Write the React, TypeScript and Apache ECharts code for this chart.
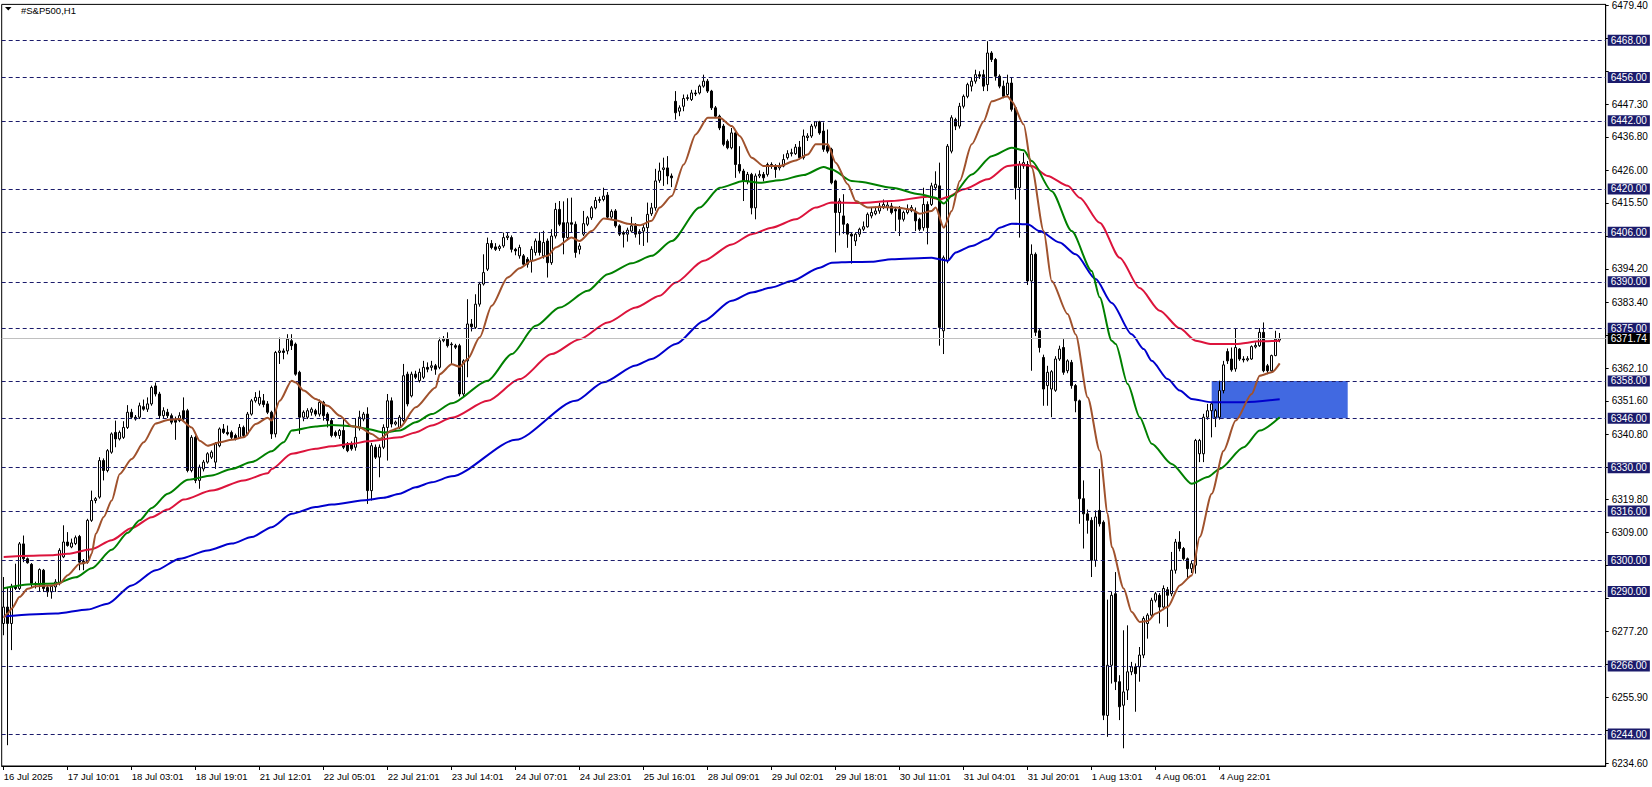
import React, { useEffect, useRef } from "react";
import * as echarts from "echarts";

// ---------- data ----------
const SLOT_COUNT = 401;
const symbolTitle = "#S&P500,H1";

// [open, close, low, high] per H1 bar
const bars: number[][] = [
  [6279.7, 6285.0, 6275.9, 6294.7], [6285.0, 6279.7, 6240.4, 6291.5], [6279.7, 6291.7, 6271.1, 6292.5], [6291.7, 6291.0, 6290.5, 6299.0],
  [6291.0, 6305.4, 6290.5, 6306.0], [6305.4, 6300.6, 6299.5, 6308.1], [6300.6, 6299.3, 6299.0, 6301.0], [6298.8, 6292.6, 6291.5, 6299.2],
  [6292.6, 6292.4, 6291.0, 6293.2], [6292.6, 6297.1, 6289.9, 6297.5], [6296.9, 6291.0, 6289.9, 6297.3], [6291.3, 6289.9, 6288.3, 6291.8],
  [6289.9, 6291.7, 6287.7, 6292.0], [6291.5, 6293.1, 6289.9, 6294.0], [6292.6, 6303.3, 6292.0, 6304.0], [6301.2, 6306.0, 6300.8, 6311.4],
  [6306.0, 6304.9, 6304.5, 6309.2], [6304.4, 6305.7, 6304.0, 6307.1], [6305.5, 6307.4, 6305.0, 6308.1], [6307.8, 6299.5, 6296.9, 6308.3],
  [6299.8, 6299.0, 6296.9, 6300.5], [6299.5, 6313.0, 6299.0, 6313.5], [6313.0, 6319.4, 6312.5, 6322.6], [6319.4, 6320.0, 6318.5, 6320.5],
  [6320.5, 6332.3, 6320.0, 6333.4], [6332.3, 6329.1, 6325.9, 6333.0], [6329.1, 6335.5, 6328.5, 6336.0], [6335.0, 6340.9, 6334.5, 6341.4],
  [6341.4, 6339.3, 6336.6, 6345.2], [6339.3, 6341.4, 6338.8, 6342.0], [6339.8, 6343.0, 6339.3, 6345.0], [6343.0, 6347.9, 6342.5, 6350.2],
  [6347.9, 6346.3, 6345.7, 6349.0], [6346.3, 6345.7, 6345.2, 6347.0], [6346.3, 6350.0, 6345.7, 6351.0], [6349.7, 6348.9, 6348.4, 6352.0],
  [6348.9, 6350.6, 6348.0, 6352.7], [6350.6, 6355.9, 6350.0, 6356.5], [6356.4, 6353.8, 6353.0, 6357.5], [6353.8, 6346.8, 6345.7, 6354.5],
  [6346.8, 6348.4, 6346.0, 6349.5], [6347.9, 6346.8, 6346.0, 6349.0], [6346.8, 6344.7, 6344.0, 6347.5], [6345.7, 6344.7, 6339.0, 6346.5],
  [6345.2, 6346.8, 6344.7, 6347.9], [6348.4, 6345.7, 6345.0, 6352.7], [6348.4, 6329.1, 6328.5, 6349.0], [6329.1, 6339.8, 6328.5, 6340.5],
  [6339.8, 6325.9, 6325.0, 6340.4], [6325.9, 6330.2, 6323.2, 6331.0], [6329.6, 6331.8, 6328.8, 6332.5], [6331.8, 6334.5, 6331.3, 6335.0],
  [6333.4, 6335.0, 6332.8, 6335.6], [6331.8, 6337.7, 6329.6, 6338.3], [6337.1, 6342.5, 6336.6, 6343.0], [6342.5, 6341.4, 6340.9, 6344.1],
  [6341.4, 6340.9, 6340.4, 6343.6], [6341.4, 6339.8, 6339.0, 6342.0], [6340.4, 6339.3, 6338.8, 6341.0], [6339.8, 6343.0, 6339.3, 6344.1],
  [6343.0, 6340.4, 6339.8, 6343.6], [6340.9, 6347.3, 6340.4, 6348.0], [6347.3, 6351.6, 6346.8, 6352.2], [6351.6, 6352.7, 6351.0, 6354.4],
  [6350.6, 6352.7, 6350.0, 6354.9], [6351.6, 6350.4, 6349.5, 6353.8], [6350.6, 6347.9, 6347.3, 6351.5], [6347.9, 6340.9, 6339.3, 6348.4],
  [6340.9, 6367.2, 6339.8, 6367.7], [6367.2, 6367.7, 6363.5, 6372.0], [6367.7, 6367.2, 6365.0, 6368.5], [6367.7, 6371.5, 6366.6, 6373.1],
  [6371.0, 6369.4, 6368.0, 6373.1], [6369.9, 6360.2, 6359.7, 6370.4], [6360.8, 6346.3, 6340.9, 6361.3], [6346.3, 6347.9, 6345.0, 6348.5],
  [6346.3, 6348.4, 6345.7, 6349.2], [6347.9, 6348.9, 6346.8, 6349.5], [6348.4, 6347.3, 6346.6, 6349.0], [6347.3, 6351.1, 6346.5, 6352.0],
  [6351.1, 6346.8, 6345.2, 6351.6], [6347.3, 6345.2, 6343.0, 6347.9], [6345.2, 6340.4, 6339.8, 6345.7], [6341.4, 6340.4, 6339.8, 6342.0],
  [6340.4, 6342.0, 6339.3, 6342.5], [6342.0, 6336.6, 6336.0, 6346.0], [6337.7, 6335.5, 6335.0, 6338.3], [6337.7, 6336.1, 6335.5, 6338.5],
  [6336.6, 6339.8, 6335.5, 6346.0], [6343.0, 6346.3, 6342.0, 6348.4], [6345.7, 6347.3, 6345.0, 6348.0], [6347.3, 6322.6, 6318.3, 6349.5],
  [6322.6, 6337.1, 6319.4, 6338.0], [6336.6, 6333.4, 6332.8, 6337.5], [6333.4, 6336.6, 6326.9, 6337.5], [6336.6, 6343.0, 6336.0, 6344.0],
  [6343.0, 6351.6, 6332.3, 6353.8], [6351.6, 6344.1, 6343.0, 6352.7], [6344.1, 6344.7, 6343.6, 6345.2], [6343.0, 6346.3, 6342.5, 6347.0],
  [6345.2, 6359.7, 6344.7, 6363.5], [6360.2, 6350.6, 6349.8, 6361.0], [6353.2, 6360.2, 6352.7, 6361.0], [6360.2, 6359.2, 6358.6, 6361.3],
  [6358.1, 6360.8, 6357.5, 6362.0], [6359.2, 6362.4, 6358.6, 6364.5], [6362.4, 6361.8, 6360.8, 6364.0], [6362.4, 6362.9, 6361.3, 6364.5],
  [6362.9, 6361.8, 6360.0, 6363.5], [6362.4, 6371.0, 6361.8, 6372.0], [6371.0, 6371.5, 6370.5, 6372.5], [6371.5, 6369.4, 6368.8, 6373.7],
  [6369.9, 6369.7, 6363.5, 6370.5], [6369.4, 6368.9, 6368.3, 6370.0], [6369.4, 6353.8, 6353.0, 6370.0], [6353.8, 6364.5, 6353.0, 6365.0],
  [6364.5, 6376.4, 6359.2, 6384.4], [6376.4, 6375.5, 6374.0, 6378.0], [6375.3, 6382.8, 6374.8, 6386.0], [6382.8, 6389.3, 6382.0, 6390.0],
  [6389.3, 6393.0, 6388.8, 6398.9], [6394.1, 6402.4, 6393.5, 6404.3], [6402.4, 6401.1, 6400.5, 6403.5], [6401.3, 6400.5, 6400.0, 6402.5],
  [6400.8, 6401.4, 6400.0, 6402.0], [6401.6, 6404.3, 6401.0, 6405.9], [6404.3, 6404.8, 6403.5, 6405.9], [6404.3, 6400.5, 6399.5, 6405.0],
  [6400.5, 6400.0, 6398.6, 6401.0], [6398.4, 6401.1, 6397.5, 6402.0], [6398.4, 6395.7, 6395.0, 6399.0], [6397.3, 6395.7, 6394.6, 6398.0],
  [6396.8, 6400.5, 6393.0, 6401.5], [6399.5, 6403.2, 6398.5, 6404.0], [6403.2, 6399.5, 6398.5, 6406.0], [6398.4, 6402.7, 6397.5, 6406.5],
  [6403.2, 6396.2, 6391.4, 6404.0], [6396.2, 6404.8, 6395.5, 6407.0], [6404.8, 6413.4, 6404.0, 6415.5], [6413.4, 6408.6, 6408.0, 6416.1],
  [6409.1, 6404.3, 6398.9, 6416.0], [6404.3, 6409.1, 6403.5, 6417.0], [6409.1, 6408.6, 6406.0, 6417.2], [6408.6, 6399.5, 6397.8, 6409.5],
  [6400.5, 6401.6, 6398.9, 6402.5], [6405.4, 6408.8, 6404.8, 6412.9], [6408.6, 6410.7, 6408.0, 6411.3], [6410.7, 6413.9, 6410.0, 6414.5],
  [6413.9, 6416.3, 6413.4, 6417.4], [6416.3, 6416.6, 6415.5, 6417.5], [6416.6, 6417.7, 6416.0, 6420.4], [6418.0, 6410.9, 6410.2, 6419.0],
  [6410.9, 6412.7, 6410.0, 6413.4], [6412.9, 6408.1, 6407.5, 6413.5], [6408.1, 6405.4, 6404.8, 6408.6], [6405.9, 6405.4, 6401.1, 6406.5],
  [6405.4, 6406.7, 6403.0, 6407.5], [6406.4, 6408.1, 6405.9, 6411.0], [6408.1, 6405.4, 6404.3, 6409.0], [6406.2, 6405.6, 6402.0, 6407.0],
  [6406.4, 6407.5, 6401.6, 6408.5], [6407.5, 6411.8, 6402.7, 6415.6], [6412.0, 6413.9, 6411.3, 6415.5], [6413.9, 6422.6, 6413.0, 6426.5],
  [6422.8, 6425.8, 6422.0, 6428.5], [6426.3, 6426.8, 6421.0, 6430.1], [6426.8, 6424.2, 6421.5, 6430.6], [6424.2, 6423.6, 6420.6, 6425.0],
  [6448.3, 6444.6, 6442.4, 6451.6], [6445.1, 6446.2, 6443.5, 6447.0], [6446.7, 6449.2, 6445.1, 6450.5], [6449.2, 6449.5, 6448.5, 6450.5],
  [6448.9, 6451.0, 6448.4, 6452.0], [6451.0, 6450.7, 6450.0, 6452.0], [6451.0, 6453.2, 6450.5, 6453.7], [6453.2, 6454.8, 6452.7, 6456.9],
  [6454.8, 6451.6, 6451.0, 6455.5], [6451.6, 6446.2, 6445.5, 6452.0], [6446.2, 6443.5, 6443.0, 6446.8], [6443.5, 6439.7, 6439.0, 6444.0],
  [6440.3, 6434.4, 6433.8, 6441.0], [6435.4, 6433.3, 6432.8, 6436.0], [6433.3, 6438.1, 6432.8, 6439.7], [6438.1, 6427.9, 6423.6, 6438.6],
  [6427.9, 6425.8, 6425.0, 6433.8], [6425.8, 6422.6, 6416.1, 6426.5], [6422.6, 6424.7, 6421.5, 6425.5], [6424.7, 6413.9, 6411.8, 6425.2],
  [6413.9, 6424.2, 6410.2, 6425.0], [6424.2, 6424.7, 6423.5, 6426.0], [6424.7, 6423.6, 6422.5, 6425.5], [6424.7, 6427.9, 6424.0, 6428.5],
  [6427.9, 6427.4, 6426.5, 6428.6], [6427.4, 6426.3, 6423.6, 6428.0], [6426.8, 6427.4, 6426.0, 6428.5], [6427.4, 6429.5, 6427.0, 6431.2],
  [6430.1, 6431.4, 6429.5, 6432.5], [6431.4, 6431.7, 6430.5, 6433.0], [6431.4, 6433.5, 6431.0, 6434.5], [6433.5, 6430.1, 6429.5, 6435.5],
  [6430.1, 6437.1, 6429.5, 6439.2], [6436.6, 6437.1, 6435.5, 6438.0], [6437.1, 6440.3, 6436.5, 6441.0], [6440.3, 6441.7, 6439.5, 6441.9],
  [6441.7, 6438.1, 6437.5, 6442.0], [6438.7, 6432.8, 6432.0, 6441.5], [6433.8, 6432.2, 6431.5, 6439.2], [6432.8, 6422.0, 6421.5, 6433.3],
  [6422.6, 6412.4, 6399.5, 6423.0], [6412.4, 6416.1, 6405.0, 6417.0], [6411.3, 6408.6, 6405.5, 6418.3], [6408.6, 6405.4, 6401.0, 6409.0],
  [6405.4, 6404.8, 6395.9, 6406.0], [6403.2, 6405.4, 6401.6, 6406.0], [6405.4, 6407.0, 6404.5, 6407.5], [6407.0, 6407.8, 6406.4, 6409.5],
  [6407.8, 6411.8, 6407.5, 6412.4], [6411.3, 6412.4, 6410.5, 6414.0], [6412.0, 6412.9, 6411.5, 6414.3], [6412.9, 6414.5, 6412.0, 6415.5],
  [6414.2, 6415.0, 6413.5, 6416.6], [6414.0, 6414.8, 6413.0, 6416.0], [6414.5, 6412.4, 6411.8, 6415.5], [6413.4, 6412.9, 6406.4, 6414.0],
  [6413.4, 6410.2, 6404.8, 6414.5], [6410.2, 6412.4, 6409.5, 6413.0], [6412.4, 6413.4, 6411.8, 6415.0], [6413.0, 6414.0, 6412.5, 6414.8],
  [6412.4, 6409.7, 6406.4, 6414.0], [6410.2, 6407.0, 6406.4, 6410.7], [6407.5, 6415.0, 6406.5, 6420.4], [6415.0, 6407.5, 6402.1, 6416.0],
  [6415.0, 6421.0, 6414.5, 6422.0], [6420.4, 6421.5, 6419.5, 6425.7], [6421.0, 6375.3, 6369.4, 6428.5], [6374.2, 6397.8, 6366.7, 6398.5],
  [6396.8, 6433.8, 6396.0, 6434.5], [6432.2, 6443.0, 6431.5, 6443.8], [6442.4, 6440.3, 6439.0, 6443.0], [6440.3, 6446.7, 6439.5, 6447.8],
  [6446.7, 6449.9, 6446.0, 6450.5], [6449.9, 6453.7, 6449.3, 6454.3], [6453.2, 6454.8, 6451.5, 6456.0], [6454.8, 6456.9, 6454.0, 6458.5],
  [6456.9, 6456.4, 6455.5, 6458.0], [6456.9, 6453.2, 6451.6, 6458.5], [6453.7, 6463.9, 6451.6, 6467.7], [6463.9, 6461.8, 6461.0, 6464.5],
  [6461.8, 6456.4, 6455.0, 6462.3], [6456.4, 6453.2, 6452.5, 6457.0], [6453.2, 6449.9, 6449.3, 6455.0], [6450.5, 6454.2, 6449.8, 6456.9],
  [6454.2, 6445.7, 6445.0, 6455.9], [6446.2, 6420.4, 6416.6, 6446.7], [6420.4, 6427.9, 6404.3, 6429.0], [6427.4, 6428.5, 6426.5, 6431.7],
  [6427.9, 6390.3, 6389.0, 6429.0], [6390.3, 6398.9, 6361.3, 6402.1], [6398.9, 6373.7, 6372.5, 6399.5], [6374.2, 6368.8, 6367.2, 6375.0],
  [6365.6, 6355.4, 6350.0, 6366.5], [6356.5, 6360.8, 6350.0, 6362.9], [6355.4, 6361.0, 6346.3, 6361.5], [6355.0, 6365.1, 6354.5, 6366.0],
  [6365.1, 6368.3, 6364.5, 6369.4], [6368.8, 6360.8, 6360.0, 6371.5], [6361.3, 6364.5, 6360.5, 6365.0], [6364.0, 6356.5, 6355.5, 6364.8],
  [6356.5, 6351.6, 6347.9, 6357.0], [6351.6, 6320.0, 6311.9, 6352.0], [6320.0, 6315.1, 6303.9, 6325.9], [6315.1, 6313.0, 6308.7, 6316.5],
  [6313.0, 6300.1, 6294.7, 6314.0], [6300.1, 6314.1, 6298.0, 6316.2], [6316.2, 6311.9, 6311.0, 6329.6], [6312.4, 6250.1, 6248.5, 6313.0],
  [6250.0, 6266.2, 6243.1, 6287.4], [6266.2, 6288.8, 6260.3, 6289.9], [6289.3, 6260.9, 6258.2, 6296.3], [6260.9, 6252.8, 6248.5, 6263.0],
  [6253.3, 6257.6, 6239.4, 6277.5], [6258.2, 6264.1, 6255.0, 6279.1], [6264.1, 6265.7, 6263.0, 6267.3], [6265.7, 6263.5, 6251.2, 6266.8],
  [6265.7, 6269.5, 6260.9, 6272.1], [6269.5, 6281.3, 6268.5, 6282.0], [6279.7, 6282.4, 6274.8, 6283.0], [6282.4, 6287.2, 6281.5, 6288.0],
  [6287.2, 6289.3, 6286.5, 6289.9], [6288.8, 6285.0, 6279.7, 6289.5], [6285.0, 6291.0, 6284.0, 6292.0], [6290.6, 6288.8, 6278.6, 6291.5],
  [6289.3, 6296.9, 6288.5, 6302.8], [6296.9, 6306.0, 6295.8, 6307.0], [6306.0, 6303.9, 6303.0, 6309.5], [6303.9, 6300.6, 6300.0, 6304.4],
  [6300.6, 6297.4, 6294.2, 6301.0], [6297.4, 6299.0, 6296.0, 6300.0], [6298.5, 6338.8, 6295.8, 6339.3], [6334.5, 6338.8, 6331.8, 6339.3],
  [6334.5, 6346.3, 6331.8, 6347.4], [6346.3, 6348.4, 6345.5, 6350.6], [6348.4, 6350.6, 6339.8, 6351.0], [6346.3, 6348.4, 6343.1, 6349.0],
  [6346.3, 6354.9, 6345.5, 6358.1], [6354.9, 6363.2, 6354.0, 6364.5], [6367.5, 6364.5, 6363.5, 6368.5], [6365.1, 6361.6, 6361.0, 6368.8],
  [6361.9, 6368.8, 6361.0, 6375.1], [6368.3, 6365.1, 6364.5, 6368.6], [6365.1, 6364.8, 6364.0, 6366.0], [6364.8, 6365.2, 6364.3, 6366.0],
  [6365.1, 6369.1, 6364.8, 6369.5], [6369.0, 6369.5, 6368.5, 6370.5], [6369.4, 6373.7, 6369.0, 6375.1], [6373.7, 6361.3, 6360.8, 6376.9],
  [6362.9, 6361.3, 6360.2, 6363.5], [6361.3, 6366.2, 6361.0, 6366.5], [6366.2, 6371.5, 6366.0, 6374.2], [6371.2, 6371.74, 6370.5, 6373.5],
];

// Moving averages: [bar index, value]
const maFast: number[][] = [
  [0, 6281.5], [1, 6282.9], [2, 6284.5], [4, 6288.3], [6, 6290.9], [8, 6291.7], [12, 6292.0], [14, 6292.6], [16, 6295.3], [19, 6299.0],
  [21, 6299.5], [22, 6302.2], [23, 6308.7], [25, 6314.1], [27, 6319.4], [29, 6328.0], [32, 6332.8], [35, 6338.2], [38, 6344.3], [41, 6345.4],
  [44, 6345.7], [47, 6343.0], [49, 6338.7], [51, 6337.1], [54, 6338.2], [57, 6339.0], [60, 6339.8], [63, 6344.1], [66, 6346.1], [67, 6345.2],
  [69, 6351.6], [72, 6358.1], [73, 6357.5], [75, 6354.9], [78, 6352.2], [81, 6350.0], [84, 6346.8], [87, 6343.4], [89, 6343.0], [92, 6340.9],
  [94, 6339.3], [97, 6342.0], [99, 6343.0], [103, 6349.5], [108, 6355.9], [109, 6360.2], [112, 6363.4], [114, 6362.6], [116, 6365.1], [119, 6372.1],
  [122, 6382.3], [126, 6391.4], [129, 6394.4], [132, 6396.8], [136, 6398.4], [138, 6401.1], [142, 6404.3], [144, 6403.2], [147, 6406.4], [150, 6410.5],
  [153, 6409.9], [156, 6408.8], [159, 6408.3], [162, 6409.7], [164, 6414.0], [167, 6417.7], [170, 6427.9], [173, 6437.6], [176, 6443.0], [179, 6443.0],
  [182, 6440.3], [184, 6437.1], [187, 6430.1], [190, 6427.4], [194, 6427.4], [198, 6429.2], [201, 6431.1], [203, 6434.4], [206, 6434.4], [208, 6428.5],
  [211, 6421.5], [213, 6416.1], [216, 6414.0], [219, 6414.2], [223, 6414.0], [227, 6413.4], [229, 6412.0], [232, 6412.9], [233, 6414.0], [235, 6407.5],
  [237, 6412.9], [239, 6422.6], [242, 6434.4], [245, 6441.9], [247, 6448.3], [251, 6449.9], [252, 6448.3], [255, 6440.8], [257, 6426.9], [260, 6406.4],
  [262, 6390.3], [266, 6379.6], [268, 6373.0], [271, 6352.7], [274, 6335.5], [276, 6315.1], [277, 6304.4], [280, 6291.0], [282, 6283.4], [284, 6280.2],
  [286, 6280.5], [288, 6282.9], [291, 6285.0], [294, 6292.0], [297, 6295.2], [299, 6307.6], [302, 6321.6], [305, 6335.5], [308, 6345.2], [312, 6353.8],
  [314, 6359.7], [317, 6360.8], [319, 6363.7],
];
const maMid: number[][] = [
  [0, 6291.1], [7, 6292.4], [13, 6292.6], [18, 6294.6], [22, 6297.5], [27, 6303.5], [31, 6309.0], [34, 6313.0], [37, 6317.0], [41, 6321.6],
  [46, 6326.1], [52, 6327.5], [57, 6329.6], [62, 6331.8], [67, 6335.3], [70, 6338.2], [72, 6342.0], [78, 6343.3], [82, 6343.8], [87, 6343.4],
  [91, 6342.5], [95, 6341.4], [99, 6342.0], [103, 6344.7], [107, 6347.3], [112, 6350.8], [121, 6358.1], [127, 6366.7], [133, 6375.8], [139, 6381.7],
  [146, 6387.1], [151, 6392.5], [157, 6396.0], [162, 6398.4], [167, 6403.2], [174, 6414.0], [179, 6420.4], [185, 6422.6], [189, 6422.0], [194, 6422.8],
  [200, 6424.5], [205, 6427.1], [207, 6426.3], [212, 6422.6], [214, 6422.3], [222, 6420.4], [229, 6418.3], [233, 6417.2], [235, 6415.3], [237, 6417.7],
  [242, 6424.7], [247, 6430.6], [252, 6433.3], [255, 6432.5], [257, 6429.0], [262, 6419.3], [267, 6406.4], [272, 6393.5], [274, 6385.0], [277, 6371.0],
  [278, 6369.9], [281, 6357.0], [284, 6346.3], [287, 6337.7], [292, 6331.2], [297, 6324.8], [301, 6327.0], [304, 6329.6], [310, 6336.6], [314, 6342.0],
  [319, 6346.3],
];
const maSlow: number[][] = [
  [0, 6301.2], [12, 6301.7], [16, 6302.2], [22, 6303.7], [27, 6306.6], [32, 6310.5], [37, 6314.0], [41, 6316.5], [45, 6319.7], [52, 6322.6],
  [60, 6325.9], [66, 6328.2], [67, 6329.6], [72, 6334.5], [78, 6336.1], [82, 6336.9], [87, 6337.7], [91, 6338.5], [99, 6339.8], [103, 6341.4],
  [107, 6343.6], [112, 6346.1], [121, 6351.6], [129, 6358.6], [137, 6366.7], [144, 6371.5], [151, 6376.9], [158, 6381.7], [164, 6385.5], [168, 6389.8],
  [175, 6396.8], [182, 6402.1], [187, 6405.4], [192, 6407.5], [198, 6410.2], [203, 6414.0], [207, 6415.6], [214, 6415.5], [222, 6416.1], [231, 6417.5],
  [234, 6416.6], [236, 6417.4], [240, 6419.9], [246, 6423.1], [251, 6427.4], [254, 6427.9], [257, 6427.4], [261, 6424.2], [266, 6421.0], [269, 6417.2],
  [274, 6409.1], [279, 6397.8], [284, 6388.0], [289, 6380.7], [294, 6375.0], [298, 6371.0], [302, 6369.9], [308, 6369.9], [314, 6370.8], [319, 6371.0],
];
const maLong: number[][] = [
  [0, 6282.0], [13, 6282.9], [21, 6284.2], [26, 6286.1], [32, 6292.0], [38, 6296.9], [44, 6300.6], [51, 6303.3], [57, 6305.5], [62, 6307.6],
  [67, 6310.8], [72, 6315.1], [78, 6317.3], [82, 6318.1], [91, 6319.6], [95, 6320.3], [99, 6321.6], [103, 6323.7], [107, 6325.3], [112, 6327.2],
  [128, 6339.0], [143, 6351.6], [150, 6357.6], [158, 6363.0], [162, 6365.1], [168, 6369.9], [175, 6377.4], [182, 6383.9], [187, 6386.6], [192, 6388.2],
  [197, 6390.3], [204, 6394.6], [207, 6396.2], [212, 6396.4], [217, 6396.5], [222, 6397.3], [232, 6397.8], [234, 6397.3], [236, 6396.8], [238, 6399.5],
  [242, 6401.6], [246, 6403.8], [249, 6407.5], [252, 6408.8], [256, 6408.6], [259, 6406.4], [264, 6402.7], [268, 6398.9], [273, 6390.9], [277, 6383.2],
  [282, 6373.1], [285, 6368.3], [287, 6364.5], [291, 6358.6], [294, 6354.9], [297, 6352.2], [302, 6351.1], [310, 6351.1], [319, 6352.1],
];

// time scale labels at bar indices
const timeTicks: [number, string][] = [
  [0, "16 Jul 2025"], [16, "17 Jul 10:01"], [32, "18 Jul 03:01"], [48, "18 Jul 19:01"], [64, "21 Jul 12:01"],
  [80, "22 Jul 05:01"], [96, "22 Jul 21:01"], [112, "23 Jul 14:01"], [128, "24 Jul 07:01"], [144, "24 Jul 23:01"],
  [160, "25 Jul 16:01"], [176, "28 Jul 09:01"], [192, "29 Jul 02:01"], [208, "29 Jul 18:01"], [224, "30 Jul 11:01"],
  [240, "31 Jul 04:01"], [256, "31 Jul 20:01"], [272, "1 Aug 13:01"], [288, "4 Aug 06:01"], [304, "4 Aug 22:01"],
];

// price scale
const priceScaleLabels = [6479.4, 6447.3, 6436.8, 6426.0, 6415.5, 6394.2, 6383.4, 6362.1, 6351.6, 6340.8, 6319.8, 6309.0, 6277.2, 6255.9, 6234.6];
const priceScaleTicks = [6479.4, 6468.6, 6458.1, 6447.3, 6436.8, 6426.0, 6415.5, 6404.7, 6394.2, 6383.4, 6372.9, 6362.1, 6351.6, 6340.8, 6330.3, 6319.8, 6309.0, 6298.5, 6287.7, 6277.2, 6266.4, 6255.9, 6245.1, 6234.6];
const Y_MIN = 6233.68;
const Y_MAX = 6479.6;

// horizontal levels and current price
const levels = [6468, 6456, 6442, 6420, 6406, 6390, 6375, 6358, 6346, 6330, 6316, 6300, 6290, 6266, 6244];
const lastPrice = 6371.74;
// highlighted zone: [fromBar, toBar, low, high]
const zone = [302, 336, 6346, 6358];

const FONT = "Liberation Sans, Arial, sans-serif";
const NAVY = "#1b1b6b";

export default function App() {
  const ref = useRef<HTMLDivElement>(null);
  useEffect(() => {
    if (!ref.current) return;
    const chart = echarts.init(ref.current, undefined, { renderer: "svg" });
    const categories = Array.from({ length: SLOT_COUNT }, (_, i) => String(i));
    const tickMap = new Map<number, string>(timeTicks);
    const showTick = (idx: number) => tickMap.has(idx);

    const maSeries = (name: string, data: number[][], color: string, z: number) => ({
      name,
      type: "line",
      data,
      showSymbol: false,
      symbol: "none",
      smooth: 0.25,
      smoothMonotone: "x",
      lineStyle: { color, width: 2 },
      silent: true,
      z,
    });

    chart.setOption({
      animation: false,
      backgroundColor: "#ffffff",
      textStyle: { fontFamily: FONT },
      title: {
        text: symbolTitle,
        left: 16,
        top: 0,
        textStyle: { fontSize: 9.5, fontWeight: "normal", color: "#000", fontFamily: FONT },
      },
      graphic: [
        {
          type: "polygon",
          shape: { points: [[5, 7], [11.5, 7], [8.25, 10.5]] },
          style: { fill: "#000" },
        },
      ],
      grid: {
        left: 1.7,
        right: 46.3,
        top: 3,
        bottom: 21,
        show: true,
        borderColor: "#000",
        borderWidth: 1,
        backgroundColor: "#fff",
      },
      xAxis: {
        type: "category",
        data: categories,
        boundaryGap: true,
        axisLine: { show: true, lineStyle: { color: "#000", width: 1 } },
        axisTick: {
          show: true,
          alignWithLabel: true,
          interval: (idx: number) => showTick(idx),
          length: 4,
          lineStyle: { color: "#000" },
        },
        axisLabel: {
          interval: (idx: number) => showTick(idx),
          formatter: (_v: string, idx: number) => tickMap.get(idx) ?? "",
          align: "left",
          margin: 5,
          fontSize: 9.5,
          color: "#000",
          fontFamily: FONT,
        },
        splitLine: { show: false },
      },
      yAxis: {
        type: "value",
        position: "right",
        min: Y_MIN,
        max: Y_MAX,
        axisLine: { show: true, lineStyle: { color: "#000", width: 1 } },
        axisTick: { show: true, length: 3, customValues: priceScaleTicks, lineStyle: { color: "#000" } },
        axisLabel: {
          customValues: priceScaleLabels,
          formatter: (v: number) => Number(v).toFixed(2),
          margin: 6,
          fontSize: 10,
          color: "#000",
          fontFamily: FONT,
        },
        splitLine: { show: false },
      },
      series: [
        {
          name: "zone",
          type: "line",
          data: [],
          silent: true,
          z: 1,
          markArea: {
            silent: true,
            itemStyle: { color: "#4169E1", opacity: 1 },
            data: [[{ xAxis: zone[0], yAxis: zone[3] }, { xAxis: zone[1], yAxis: zone[2] }]],
          },
        },
        {
          name: "S&P500",
          type: "candlestick",
          data: bars,
          barWidth: 3,
          z: 3,
          silent: true,
          itemStyle: {
            color: "#ffffff",
            color0: "#000000",
            borderColor: "#000000",
            borderColor0: "#000000",
            borderWidth: 1,
          },
          markLine: {
            silent: true,
            symbol: ["none", "none"],
            lineStyle: { color: NAVY, type: [4, 3], width: 1 },
            label: {
              show: true,
              position: "end",
              distance: 2,
              formatter: (p: any) => Number(p.value).toFixed(2),
              color: "#ffffff",
              backgroundColor: NAVY,
              padding: [1, 3, 0, 3],
              fontSize: 10,
              lineHeight: 10,
              fontFamily: FONT,
            },
            data: [
              ...levels.map((v) => ({ yAxis: v })),
              {
                yAxis: lastPrice,
                lineStyle: { color: "#c0c0c0", type: "solid", width: 1 },
                label: { backgroundColor: "#000000", color: "#ffffff" },
              },
            ],
          },
        },
        maSeries("MA slow", maSlow, "#DC143C", 4),
        maSeries("MA long", maLong, "#0000CD", 4),
        maSeries("MA mid", maMid, "#008000", 5),
        maSeries("MA fast", maFast, "#A0522D", 6),
      ],
    });
    return () => chart.dispose();
  }, []);
  return <div ref={ref} style={{ position: "absolute", left: 0, top: 0, width: 1652, height: 787 }} />;
}
